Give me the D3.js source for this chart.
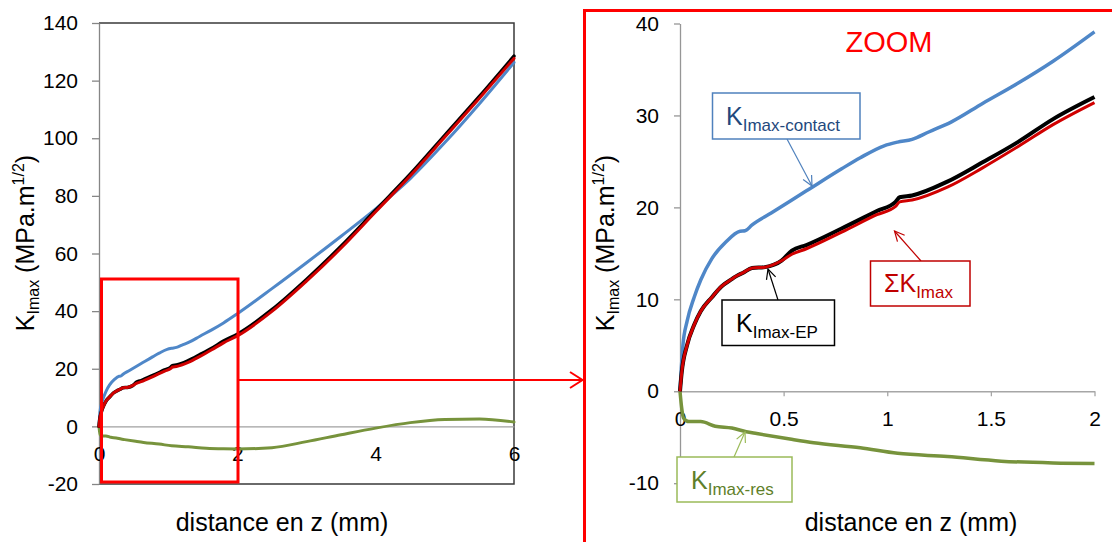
<!DOCTYPE html>
<html>
<head>
<meta charset="utf-8">
<script src="https://cdn.jsdelivr.net/npm/d3@7"></script>
<style>
  html, body { margin: 0; padding: 0; background: #fff; }
  svg { display: block; font-family: "Liberation Sans", Arial, sans-serif; }
</style>
</head>
<body>
<svg id="chart" width="1112" height="542"></svg>
<script>
// ---------------- DATA ----------------
// K_Imax-contact (blue)
const contactZ = [0, 0.014, 0.034, 0.068, 0.10, 0.153, 0.22, 0.29, 0.314, 0.348, 0.44, 0.61, 0.78, 0.87, 0.985, 1.05, 1.12, 1.2, 1.31, 1.46, 1.63, 1.80, 2.0, 2.5, 3.0, 3.5, 4.0, 4.5, 5.0, 5.5, 6.0];
const contactK = [0, 5, 7.6, 10.2, 12.1, 14.4, 16.2, 17.4, 17.45, 18.1, 19.4, 21.8, 24.2, 25.4, 26.7, 27.1, 27.4, 28.2, 29.3, 31.3, 33.5, 35.9, 39.1, 47.8, 56.8, 66.0, 75.5, 86.0, 98.5, 112.0, 126.3];
// K_Imax-EP (black)
const epZ = [0, 0.008, 0.034, 0.068, 0.10, 0.153, 0.2, 0.25, 0.27, 0.305, 0.348, 0.41, 0.49, 0.54, 0.61, 0.78, 0.95, 1.04, 1.06, 1.12, 1.29, 1.46, 1.63, 1.80, 2.0, 2.5, 3.0, 3.5, 4.0, 4.5, 5.0, 5.5, 6.0];
const epK = [0, 2, 5, 7.2, 8.7, 10.2, 11.4, 12.2, 12.5, 12.9, 13.4, 13.5, 14.2, 15.3, 15.9, 17.7, 19.6, 20.6, 21.1, 21.3, 22.8, 24.9, 27.1, 29.6, 32.0, 40.5, 51.0, 62.5, 75.0, 87.5, 101.0, 114.5, 128.5];
// Sum K_Imax (red)
const sumZ = [0, 0.008, 0.034, 0.068, 0.10, 0.153, 0.2, 0.25, 0.27, 0.305, 0.348, 0.41, 0.49, 0.54, 0.61, 0.78, 0.95, 1.04, 1.06, 1.12, 1.29, 1.46, 1.63, 1.80, 2.0, 2.5, 3.0, 3.5, 4.0, 4.5, 5.0, 5.5, 6.0];
const sumK = [0, 2, 5, 7.2, 8.7, 10.2, 11.4, 12.2, 12.5, 12.9, 13.4, 13.5, 14.2, 14.9, 15.5, 17.3, 19.2, 20.1, 20.6, 20.8, 22.2, 24.3, 26.6, 29.0, 31.4, 39.9, 50.4, 61.9, 74.5, 87.0, 100.4, 113.9, 127.7];
// K_Imax-res (green)
const resZ = [0, 0.008, 0.017, 0.042, 0.10, 0.17, 0.25, 0.32, 0.37, 0.53, 0.645, 0.87, 1.05, 1.29, 1.55, 1.80, 2.0, 2.5, 3.0, 3.5, 4.0, 4.5, 5.0, 5.5, 6.0];
const resK = [0, -1.8, -2.9, -3.3, -3.3, -3.8, -4.0, -4.4, -4.6, -5.2, -5.6, -6.15, -6.75, -7.1, -7.6, -7.8, -7.85, -7.4, -5.3, -2.9, -0.6, 1.3, 2.4, 2.6, 1.5];

const leftXTicks = [0, 2, 4, 6];
const leftYTicks = [-20, 0, 20, 40, 60, 80, 100, 120, 140];
const rightXTicks = [0, 0.5, 1, 1.5, 2];
const rightYTicks = [-10, 0, 10, 20, 30, 40];

const xTitle = "distance en z (mm)";

// ---------------- SETUP ----------------
const svg = d3.select("#chart");
const pair = (xs, ys) => xs.map((x, i) => ({ x, y: ys[i] }));
const seriesList = [
  { name: "res", data: pair(resZ, resK), color: "#77933c", width: 3.5 },
  { name: "contact", data: pair(contactZ, contactK), color: "#4f87c8", width: 3.5 },
  { name: "ep", data: pair(epZ, epK), color: "#000000", width: 4 },
  { name: "sum", data: pair(sumZ, sumK), color: "#d00000", width: 3 }
];

function yTitle(g, x, y) {
  const t = g.append("text")
    .attr("transform", `translate(${x},${y}) rotate(-90)`)
    .attr("text-anchor", "middle")
    .attr("font-size", 25)
    .attr("fill", "#000");
  t.append("tspan").text("K");
  t.append("tspan").attr("font-size", 16).attr("dy", 5).text("Imax");
  t.append("tspan").attr("dy", -5).text(" (MPa.m");
  t.append("tspan").attr("font-size", 16).attr("dy", -10).text("1/2");
  t.append("tspan").attr("dy", 10).text(")");
}

function styleAxis(g, color) {
  g.selectAll("path.domain").attr("stroke", color).attr("stroke-width", 1.3);
  g.selectAll(".tick line").attr("stroke", color).attr("stroke-width", 1.3);
  g.selectAll(".tick text").attr("font-size", 21).attr("fill", "#000")
    .attr("font-family", "Liberation Sans, Arial, sans-serif");
}

// ---------------- LEFT CHART ----------------
const lx = d3.scaleLinear().domain([0, 6]).range([99, 514]);
const ly = d3.scaleLinear().domain([-20, 140]).range([484, 23]);
const left = svg.append("g");

// frame (top, right, bottom)
left.append("path")
  .attr("d", `M${lx(0)},${ly(140)}H${lx(6)}V${ly(-20)}H${lx(0)}`)
  .attr("fill", "none").attr("stroke", "#3a3a3a").attr("stroke-width", 1.5);

const lyAxis = left.append("g").attr("transform", `translate(${lx(0)},0)`)
  .call(d3.axisLeft(ly).tickValues(leftYTicks).tickSize(7).tickSizeOuter(0).tickPadding(14).tickFormat(d => String(d)));
styleAxis(lyAxis, "#868686");

const lxAxis = left.append("g").attr("transform", `translate(0,${ly(0)})`)
  .call(d3.axisBottom(lx).tickValues(leftXTicks).tickSize(0).tickSizeOuter(0).tickPadding(20).tickFormat(d => String(d)));
styleAxis(lxAxis, "#a0a0a0");

const lLine = d3.line().x(d => lx(d.x)).y(d => ly(d.y)).curve(d3.curveMonotoneX);
seriesList.forEach(s => {
  left.append("path").attr("d", lLine(s.data))
    .attr("fill", "none").attr("stroke", s.color).attr("stroke-width", s.width === 4 ? 3.5 : 3)
    .attr("stroke-linejoin", "round").attr("stroke-linecap", "round");
});

yTitle(left, 34, 243);
left.append("text").attr("x", 282).attr("y", 531).attr("text-anchor", "middle")
  .attr("font-size", 25).attr("fill", "#000").text(xTitle);

// zoom rectangle + arrow
left.append("rect").attr("x", 101.5).attr("y", 279).attr("width", 136.5).attr("height", 203)
  .attr("fill", "none").attr("stroke", "#ff0000").attr("stroke-width", 3);
svg.append("path").attr("d", "M238,380H582")
  .attr("stroke", "#ff0000").attr("stroke-width", 2).attr("fill", "none");
svg.append("path").attr("d", "M570,372L582.5,380L570,388")
  .attr("stroke", "#ff0000").attr("stroke-width", 2).attr("fill", "none");

// red frame of zoom panel
svg.append("path").attr("d", "M584.5,542V10.5H1112")
  .attr("stroke", "#ff0000").attr("stroke-width", 3).attr("fill", "none");

// ---------------- RIGHT CHART ----------------
const rx = d3.scaleLinear().domain([0, 2]).range([680, 1094.5]);
const ry = d3.scaleLinear().domain([-10, 40]).range([483.2, 23.5]);
const right = svg.append("g");

const ryAxis = right.append("g").attr("transform", `translate(${rx(0)},0)`)
  .call(d3.axisLeft(ry).tickValues(rightYTicks).tickSize(6).tickSizeOuter(0).tickPadding(15).tickFormat(d => String(d)));
styleAxis(ryAxis, "#969696");

const rxAxis = right.append("g").attr("transform", `translate(0,${ry(0)})`)
  .call(d3.axisBottom(rx).tickValues(rightXTicks).tickSize(5).tickSizeOuter(0).tickPadding(15).tickFormat(d => String(d)));
styleAxis(rxAxis, "#a6a6a6");

const rLine = d3.line().x(d => rx(d.x)).y(d => ry(d.y)).curve(d3.curveMonotoneX);
seriesList.forEach(s => {
  right.append("path").attr("d", rLine(s.data.filter(d => d.x <= 2)))
    .attr("fill", "none").attr("stroke", s.color).attr("stroke-width", s.width)
    .attr("stroke-linejoin", "round").attr("stroke-linecap", "butt");
});

yTitle(right, 613.5, 243);
right.append("text").attr("x", 911).attr("y", 531).attr("text-anchor", "middle")
  .attr("font-size", 25).attr("fill", "#000").text(xTitle);

right.append("text").attr("x", 889).attr("y", 52).attr("text-anchor", "middle")
  .attr("font-size", 29).attr("fill", "#ff0000").text("ZOOM");

// annotations
function arrow(g, x1, y1, x2, y2, color) {
  g.append("line").attr("x1", x1).attr("y1", y1).attr("x2", x2).attr("y2", y2)
    .attr("stroke", color).attr("stroke-width", 1.2);
  const a = Math.atan2(y2 - y1, x2 - x1), L = 11, w = 0.45;
  const p1 = [x2 - L * Math.cos(a - w), y2 - L * Math.sin(a - w)];
  const p2 = [x2 - L * Math.cos(a + w), y2 - L * Math.sin(a + w)];
  g.append("path").attr("d", `M${p1}L${x2},${y2}L${p2}`)
    .attr("fill", "none").attr("stroke", color).attr("stroke-width", 1.2);
}
function box(g, x, y, w, h, border, textColor, tx, ty, big, sub) {
  g.append("rect").attr("x", x).attr("y", y).attr("width", w).attr("height", h)
    .attr("fill", "#fff").attr("stroke", border).attr("stroke-width", 1.5);
  const t = g.append("text").attr("x", tx).attr("y", ty).attr("fill", textColor).attr("font-size", 25);
  t.append("tspan").text(big);
  t.append("tspan").attr("font-size", 17).attr("dy", 6).text(sub);
}
const ann = svg.append("g");
arrow(ann, 787, 139, 812, 186, "#4f81bd");
box(ann, 712.5, 93, 147.5, 46, "#4f81bd", "#1f497d", 726, 124.5, "K", "Imax-contact");
arrow(ann, 778, 300, 768, 269, "#000");
box(ann, 722, 300, 112.5, 45.5, "#000", "#000", 736, 332, "K", "Imax-EP");
arrow(ann, 921, 261, 894.5, 231, "#c00000");
box(ann, 870.5, 261, 99.5, 45, "#c00000", "#c00000", 884, 292, "\u03A3K", "Imax");
arrow(ann, 734, 457, 745, 432, "#9bbb59");
box(ann, 677, 457, 115, 45, "#9bbb59", "#5f7f2a", 691, 489, "K", "Imax-res");
</script>
</body>
</html>
